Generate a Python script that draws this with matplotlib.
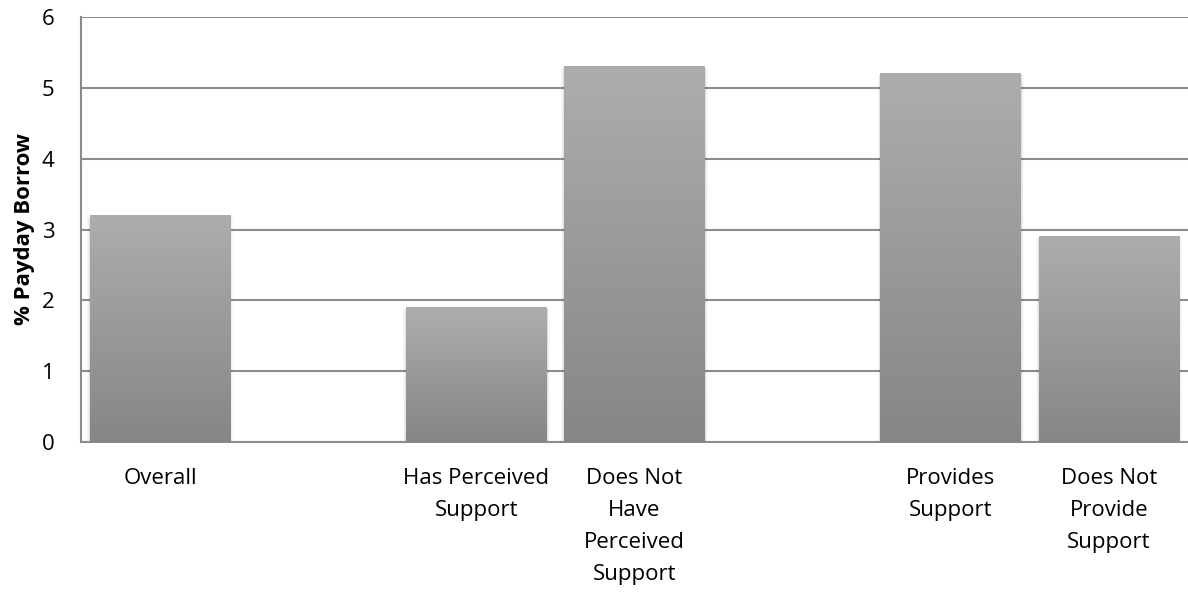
import matplotlib.pyplot as plt
import numpy as np

categories = ['Overall', '', 'Has Perceived\nSupport', 'Does Not\nHave\nPerceived\nSupport',
              '', 'Provides\nSupport', 'Does Not\nProvide\nSupport']
values = [3.2, None, 1.9, 5.3, None, 5.2, 2.9]
y_ticks = [0, 1, 2, 3, 4, 5, 6]

plt.rcParams['font.family'] = ['Open Sans', 'DejaVu Sans']

fig = plt.figure(figsize=(11.88, 5.93), dpi=100)
ax = fig.add_axes([0.0682, 0.2546, 0.9318, 0.7167])

grid_color = '#8c8c8c'
ax.set_yticks(y_ticks)
ax.yaxis.grid(True, color=grid_color, linewidth=1.5)
ax.set_axisbelow(True)

# vertical gradient, light on top, darker at the bottom
grad = np.linspace(0, 1, 256).reshape(-1, 1)
cmap = plt.matplotlib.colors.LinearSegmentedColormap.from_list('g', ['#868686', '#adadad'])

width = 0.89
for i, v in enumerate(values):
    if v is None:
        continue
    # soft shadow on the sides
    for k, a in enumerate([0.06, 0.04, 0.02]):
        ax.add_patch(plt.Rectangle((i - width / 2 - 0.006 * (k + 1), 0), width + 0.012 * (k + 1), v - 0.02,
                                   color='black', alpha=a, lw=0, zorder=2))
    ax.imshow(grad, extent=(i - width / 2, i + width / 2, 0, v), origin='lower', cmap=cmap,
              aspect='auto', zorder=3, interpolation='bilinear')

ax.set_xlim(-0.5, len(categories) - 0.5)
ax.set_ylim(0, 6)
ax.set_xticks(range(len(categories)))
ax.set_xticklabels(categories, fontsize=16, linespacing=1.68, va='top')
ax.tick_params(axis='both', length=0, labelsize=16)
ax.tick_params(axis='x', pad=19)
ax.tick_params(axis='y', pad=19)

for s in ['top', 'right']:
    ax.spines[s].set_visible(False)
ax.spines['left'].set_color(grid_color)
ax.spines['left'].set_linewidth(1.5)
ax.spines['bottom'].set_color(grid_color)
ax.spines['bottom'].set_linewidth(1.5)

ax.set_ylabel('% Payday Borrow', fontsize=16, fontweight='bold', labelpad=5)

fig.savefig('out.png', dpi=100)
